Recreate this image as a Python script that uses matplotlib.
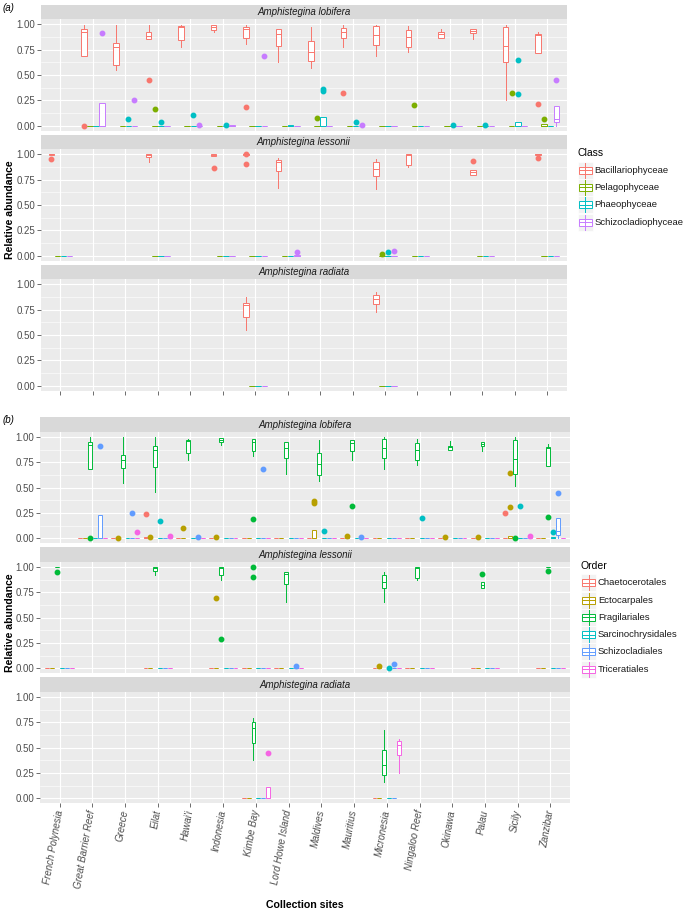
import numpy as np
import matplotlib.pyplot as plt
from matplotlib.patches import Rectangle

plt.rcParams['font.family'] = ['Liberation Sans', 'DejaVu Sans']

sites = ["French Polynesia", "Great Barrier Reef", "Greece", "Eilat", "Hawai'i",
         "Indonesia", "Kimbe Bay", "Lord Howe Island", "Maldives", "Mauritius",
         "Micronesia", "Ningaloo Reef", "Okinawa", "Palau", "Sicily", "Zanzibar"]
species = ["Amphistegina lobifera", "Amphistegina lessonii", "Amphistegina radiata"]

classes = ["Bacillariophyceae", "Pelagophyceae", "Phaeophyceae", "Schizocladiophyceae"]
class_colors = ["#F8766D", "#7CAE00", "#00BFC4", "#C77CFF"]
orders = ["Chaetocerotales", "Ectocarpales", "Fragilariales", "Sarcinochrysidales",
          "Schizocladiales", "Triceratiales"]
order_colors = ["#F8766D", "#B79F00", "#00BA38", "#00BFC4", "#619CFF", "#F564E3"]

# sites where each species was sampled
lobifera_sites = sites[1:]
lessonii_sites = ["French Polynesia", "Eilat", "Indonesia", "Kimbe Bay", "Lord Howe Island",
                  "Micronesia", "Ningaloo Reef", "Palau", "Zanzibar"]
radiata_sites = ["Kimbe Bay", "Micronesia"]

# box summaries: (lower whisker, q1, median, q3, upper whisker); missing -> all zero
# ---- (a) Class ----
a_lob_box = {
    "Bacillariophyceae": {
        "Great Barrier Reef": (0.69, 0.69, 0.92, 0.95, 0.99),
        "Greece": (0.55, 0.60, 0.78, 0.82, 0.99),
        "Eilat": (0.855, 0.855, 0.89, 0.92, 0.99),
        "Hawai'i": (0.775, 0.845, 0.977, 0.983, 0.99),
        "Indonesia": (0.92, 0.947, 0.977, 0.993, 0.995),
        "Kimbe Bay": (0.81, 0.87, 0.954, 0.977, 0.99),
        "Lord Howe Island": (0.63, 0.79, 0.90, 0.95, 0.95),
        "Maldives": (0.57, 0.637, 0.723, 0.838, 0.97),
        "Mauritius": (0.772, 0.861, 0.92, 0.964, 0.99),
        "Micronesia": (0.69, 0.795, 0.894, 0.983, 0.99),
        "Ningaloo Reef": (0.729, 0.772, 0.871, 0.944, 0.987),
        "Okinawa": (0.868, 0.868, 0.90, 0.92, 0.957),
        "Palau": (0.858, 0.911, 0.934, 0.954, 0.954),
        "Sicily": (0.257, 0.63, 0.782, 0.977, 0.997),
        "Zanzibar": (0.713, 0.713, 0.894, 0.90, 0.927)},
    "Pelagophyceae": {"Zanzibar": (0, 0, 0, 0.02, 0.02)},
    "Phaeophyceae": {"Lord Howe Island": (0, 0, 0, 0.005, 0.005),
                     "Maldives": (0, 0, 0, 0.085, 0.085),
                     "Sicily": (0, 0, 0, 0.04, 0.04)},
    "Schizocladiophyceae": {"Great Barrier Reef": (0, 0, 0, 0.225, 0.225),
                            "Indonesia": (0, 0, 0, 0.01, 0.01),
                            "Zanzibar": (0, 0.033, 0.07, 0.195, 0.195)},
}
a_lob_out = {
    "Bacillariophyceae": {"Great Barrier Reef": [0.0], "Eilat": [0.455], "Kimbe Bay": [0.188],
                          "Mauritius": [0.323], "Zanzibar": [0.215]},
    "Pelagophyceae": {"Eilat": [0.168], "Maldives": [0.076], "Ningaloo Reef": [0.208],
                      "Sicily": [0.32], "Zanzibar": [0.063]},
    "Phaeophyceae": {"Greece": [0.069], "Eilat": [0.04], "Hawai'i": [0.109], "Indonesia": [0.01],
                     "Maldives": [0.366, 0.343], "Mauritius": [0.033], "Okinawa": [0.01],
                     "Palau": [0.01], "Sicily": [0.65, 0.317]},
    "Schizocladiophyceae": {"Great Barrier Reef": [0.91], "Greece": [0.254], "Hawai'i": [0.01],
                            "Kimbe Bay": [0.686], "Mauritius": [0.01], "Zanzibar": [0.449]},
}
a_les_box = {
    "Bacillariophyceae": {
        "French Polynesia": (0.99, 0.99, 1.0, 1.0, 1.0),
        "Eilat": (0.92, 0.97, 0.99, 1.0, 1.0),
        "Indonesia": (0.983, 0.983, 0.993, 1.0, 1.0),
        "Kimbe Bay": (0.99, 0.99, 1.0, 1.0, 1.0),
        "Lord Howe Island": (0.663, 0.832, 0.92, 0.947, 0.96),
        "Micronesia": (0.657, 0.789, 0.851, 0.924, 0.95),
        "Ningaloo Reef": (0.878, 0.898, 0.99, 1.0, 1.0),
        "Palau": (0.80, 0.80, 0.822, 0.848, 0.848),
        "Zanzibar": (0.995, 0.995, 1.0, 1.0, 1.0)},
    "Schizocladiophyceae": {"Lord Howe Island": (0, 0, 0, 0.01, 0.01)},
}
a_les_out = {
    "Bacillariophyceae": {"French Polynesia": [0.954], "Indonesia": [0.868],
                          "Kimbe Bay": [1.0, 0.904], "Palau": [0.93], "Zanzibar": [0.964]},
    "Pelagophyceae": {"Micronesia": [0.017]},
    "Phaeophyceae": {"Micronesia": [0.033]},
    "Schizocladiophyceae": {"Lord Howe Island": [0.036], "Micronesia": [0.043]},
}
a_rad_box = {
    "Bacillariophyceae": {"Kimbe Bay": (0.545, 0.68, 0.795, 0.82, 0.878),
                          "Micronesia": (0.723, 0.805, 0.858, 0.898, 0.924)},
}
a_rad_out = {}

# ---- (b) Order ----
b_lob_box = {
    "Chaetocerotales": {"Eilat": (0, 0, 0, 0.01, 0.01)},
    "Ectocarpales": {"Maldives": (0, 0, 0, 0.083, 0.083), "Sicily": (0, 0, 0, 0.02, 0.02)},
    "Fragilariales": {
        "Great Barrier Reef": (0.685, 0.685, 0.92, 0.95, 1.0),
        "Greece": (0.55, 0.689, 0.775, 0.821, 1.0),
        "Eilat": (0.454, 0.699, 0.868, 0.907, 1.0),
        "Hawai'i": (0.775, 0.841, 0.964, 0.973, 0.983),
        "Indonesia": (0.917, 0.947, 0.973, 0.99, 0.99),
        "Kimbe Bay": (0.808, 0.864, 0.954, 0.98, 0.98),
        "Lord Howe Island": (0.63, 0.788, 0.894, 0.954, 0.954),
        "Maldives": (0.566, 0.623, 0.732, 0.838, 0.97),
        "Mauritius": (0.768, 0.858, 0.94, 0.967, 0.967),
        "Micronesia": (0.685, 0.79, 0.89, 0.98, 1.0),
        "Ningaloo Reef": (0.728, 0.771, 0.874, 0.94, 0.983),
        "Okinawa": (0.868, 0.868, 0.90, 0.914, 0.957),
        "Palau": (0.858, 0.907, 0.93, 0.95, 0.95),
        "Sicily": (0.517, 0.632, 0.785, 0.97, 1.0),
        "Zanzibar": (0.712, 0.712, 0.89, 0.897, 0.927)},
    "Sarcinochrysidales": {"Zanzibar": (0, 0, 0, 0.013, 0.013)},
    "Schizocladiales": {"Great Barrier Reef": (0, 0, 0, 0.225, 0.225),
                        "Indonesia": (0, 0, 0, 0.005, 0.005),
                        "Zanzibar": (0, 0.036, 0.073, 0.195, 0.195)},
}
b_lob_out = {
    "Chaetocerotales": {"Eilat": [0.242], "Sicily": [0.252]},
    "Ectocarpales": {"Greece": [0.0], "Eilat": [0.013], "Hawai'i": [0.106], "Indonesia": [0.013],
                     "Maldives": [0.364, 0.344], "Mauritius": [0.026], "Okinawa": [0.013],
                     "Palau": [0.013], "Sicily": [0.649, 0.308]},
    "Fragilariales": {"Great Barrier Reef": [0.0], "Kimbe Bay": [0.189], "Mauritius": [0.318],
                      "Sicily": [0.0], "Zanzibar": [0.212]},
    "Sarcinochrysidales": {"Eilat": [0.166], "Maldives": [0.07], "Ningaloo Reef": [0.2],
                           "Sicily": [0.318], "Zanzibar": [0.06]},
    "Schizocladiales": {"Great Barrier Reef": [0.91], "Greece": [0.252], "Hawai'i": [0.013],
                        "Kimbe Bay": [0.682], "Mauritius": [0.01], "Zanzibar": [0.447]},
    "Triceratiales": {"Greece": [0.063], "Eilat": [0.026], "Sicily": [0.02]},
}
b_les_box = {
    "Fragilariales": {
        "French Polynesia": (0.995, 0.995, 1.0, 1.0, 1.0),
        "Eilat": (0.92, 0.963, 0.99, 0.997, 1.0),
        "Indonesia": (0.867, 0.92, 0.99, 1.0, 1.0),
        "Kimbe Bay": (1.0, 1.0, 1.0, 1.0, 1.0),
        "Lord Howe Island": (0.658, 0.83, 0.934, 0.947, 0.953),
        "Micronesia": (0.651, 0.79, 0.85, 0.92, 0.953),
        "Ningaloo Reef": (0.874, 0.887, 0.99, 1.0, 1.0),
        "Palau": (0.79, 0.79, 0.824, 0.847, 0.847),
        "Zanzibar": (0.995, 0.995, 1.0, 1.0, 1.0)},
    "Schizocladiales": {"Lord Howe Island": (0, 0, 0, 0.008, 0.008)},
}
b_les_out = {
    "Ectocarpales": {"Indonesia": [0.694], "Micronesia": [0.027]},
    "Fragilariales": {"French Polynesia": [0.953], "Indonesia": [0.289],
                      "Kimbe Bay": [1.0, 0.897], "Palau": [0.927], "Zanzibar": [0.957]},
    "Sarcinochrysidales": {"Micronesia": [0.007]},
    "Schizocladiales": {"Lord Howe Island": [0.027], "Micronesia": [0.037]},
}
b_rad_box = {
    "Fragilariales": {"Kimbe Bay": (0.375, 0.545, 0.691, 0.757, 0.79),
                      "Micronesia": (0.163, 0.226, 0.329, 0.472, 0.674)},
    "Triceratiales": {"Kimbe Bay": (0, 0, 0, 0.115, 0.115),
                      "Micronesia": (0.249, 0.422, 0.522, 0.568, 0.58)},
}
b_rad_out = {"Triceratiales": {"Kimbe Bay": [0.449]}}

W, H = 685, 913
fig = plt.figure(figsize=(W / 100, H / 100), dpi=100)


def px_axes(x0, y0, x1, y1, **kw):
    return fig.add_axes([x0 / W, 1 - y1 / H, (x1 - x0) / W, (y1 - y0) / H], **kw)


def draw_facet(ax, fsites, boxes, outs, groups, colors, total, width):
    slot = total / len(groups)
    for s in fsites:
        xc = sites.index(s) + 1
        for g, (grp, col) in enumerate(zip(groups, colors)):
            lo, q1, md, q3, hi = boxes.get(grp, {}).get(s, (0, 0, 0, 0, 0))
            fl = outs.get(grp, {}).get(s, [])
            pos = xc - total / 2 + slot * (g + 0.5)
            res = ax.bxp([dict(whislo=lo, q1=q1, med=md, q3=q3, whishi=hi, fliers=fl)],
                         positions=[pos], widths=width, patch_artist=True, showcaps=False,
                         manage_ticks=False,
                         boxprops=dict(lw=0.7),
                         medianprops=dict(color=col, lw=0.7),
                         whiskerprops=dict(color=col, lw=0.7),
                         flierprops=dict(marker='o', mfc=col, mec=col, ms=3.2, ls='none'))
            for b in res['boxes']:
                b.set_facecolor('white')
                b.set_edgecolor(col)


def style_facet(ax, bottom_ticks, labels):
    ax.set_facecolor('#EBEBEB')
    ax.set_xlim(0.4, len(sites) + 0.6)
    ax.set_ylim(-0.05, 1.05)
    for sp in ax.spines.values():
        sp.set_visible(False)
    ax.set_yticks([0, 0.25, 0.5, 0.75, 1.0])
    ax.set_yticklabels(["0.00", "0.25", "0.50", "0.75", "1.00"])
    ax.set_yticks([0.125, 0.375, 0.625, 0.875], minor=True)
    ax.set_xticks(np.arange(1, len(sites) + 1))
    ax.grid(True, which='major', color='white', lw=0.8)
    ax.grid(True, which='minor', axis='y', color='white', lw=0.4)
    ax.set_axisbelow(True)
    ax.tick_params(axis='y', which='major', length=2.7, width=0.5, color='#333333',
                   labelsize=7, labelcolor='#4D4D4D', pad=1.5)
    ax.tick_params(which='minor', length=0)
    if bottom_ticks:
        ax.tick_params(axis='x', length=2.7, width=0.5, color='#333333')
        if labels:
            ax.set_xticklabels(sites, rotation=80, ha='right', va='center',
                               rotation_mode='anchor', fontsize=7, color='#4D4D4D',
                               style='italic')
            ax.tick_params(axis='x', pad=2)
        else:
            ax.set_xticklabels([])
    else:
        ax.tick_params(axis='x', length=0, labelbottom=False)


def strip(x0, y0, x1, y1, text):
    s = px_axes(x0, y0, x1, y1)
    s.set_facecolor('#D9D9D9')
    s.set_xticks([])
    s.set_yticks([])
    for sp in s.spines.values():
        sp.set_visible(False)
    s.text(0.5, 0.5, text, ha='center', va='center', fontsize=7, style='italic',
           color='#1A1A1A', transform=s.transAxes)


panels = [
    dict(tag="(a)", top=4.7, x0=41, x1=566.7, groups=classes, colors=class_colors,
         total=0.75, width=0.17, title="Class",
         facets=[(lobifera_sites, a_lob_box, a_lob_out),
                 (lessonii_sites, a_les_box, a_les_out),
                 (radiata_sites, a_rad_box, a_rad_out)]),
    dict(tag="(b)", top=417.3, x0=40, x1=570, groups=orders, colors=order_colors,
         total=0.9, width=0.12, title="Order",
         facets=[(lobifera_sites, b_lob_box, b_lob_out),
                 (lessonii_sites, b_les_box, b_les_out),
                 (radiata_sites, b_rad_box, b_rad_out)]),
]

overlay = fig.add_axes([0, 0, 1, 1], facecolor='none')
overlay.set_xlim(0, W)
overlay.set_ylim(H, 0)
overlay.axis('off')

for p_i, p in enumerate(panels):
    for f_i, (fsites, boxes, outs) in enumerate(p["facets"]):
        st = p["top"] + 130 * f_i
        strip(p["x0"], st, p["x1"], st + 14.6, species[f_i])
        ax = px_axes(p["x0"], st + 14.6, p["x1"], st + 126)
        draw_facet(ax, fsites, boxes, outs, p["groups"], p["colors"], p["total"], p["width"])
        style_facet(ax, f_i == 2, p_i == 1)
    mid = p["top"] + 14.6 + (390 - 14.6) / 2 + 3
    overlay.text(10, mid, "Relative abundance", rotation=90, ha='center', va='center',
                 fontsize=7.6, fontweight='bold')
    overlay.text(3, p["top"] + 3, p["tag"], fontsize=7, style='italic', ha='left', va='center')
    # legend
    lx = p["x1"] + 11
    ly = p["top"] + 148.5
    overlay.text(lx, ly, p["title"], fontsize=7.5, ha='left', va='center')
    for k, (name, col) in enumerate(zip(p["groups"], p["colors"])):
        yc = ly + 17 + 17.3 * k
        overlay.add_patch(Rectangle((lx, yc - 8.5), 15.5, 17, facecolor='#F2F2F2',
                                    edgecolor='white', lw=0.5))
        overlay.plot([lx + 7.75, lx + 7.75], [yc - 7.5, yc + 7.5], color=col, lw=0.7)
        overlay.add_patch(Rectangle((lx + 1.5, yc - 3.5), 12.5, 7, facecolor='white',
                                    edgecolor=col, lw=0.7))
        overlay.plot([lx + 1.5, lx + 14], [yc, yc], color=col, lw=0.7)
        overlay.text(lx + 17, yc, name, fontsize=6.8, ha='left', va='center', color='#1A1A1A')

overlay.text(305, 905, "Collection sites", fontsize=7.6, fontweight='bold',
             ha='center', va='center')

fig.savefig("out.png", dpi=100)
